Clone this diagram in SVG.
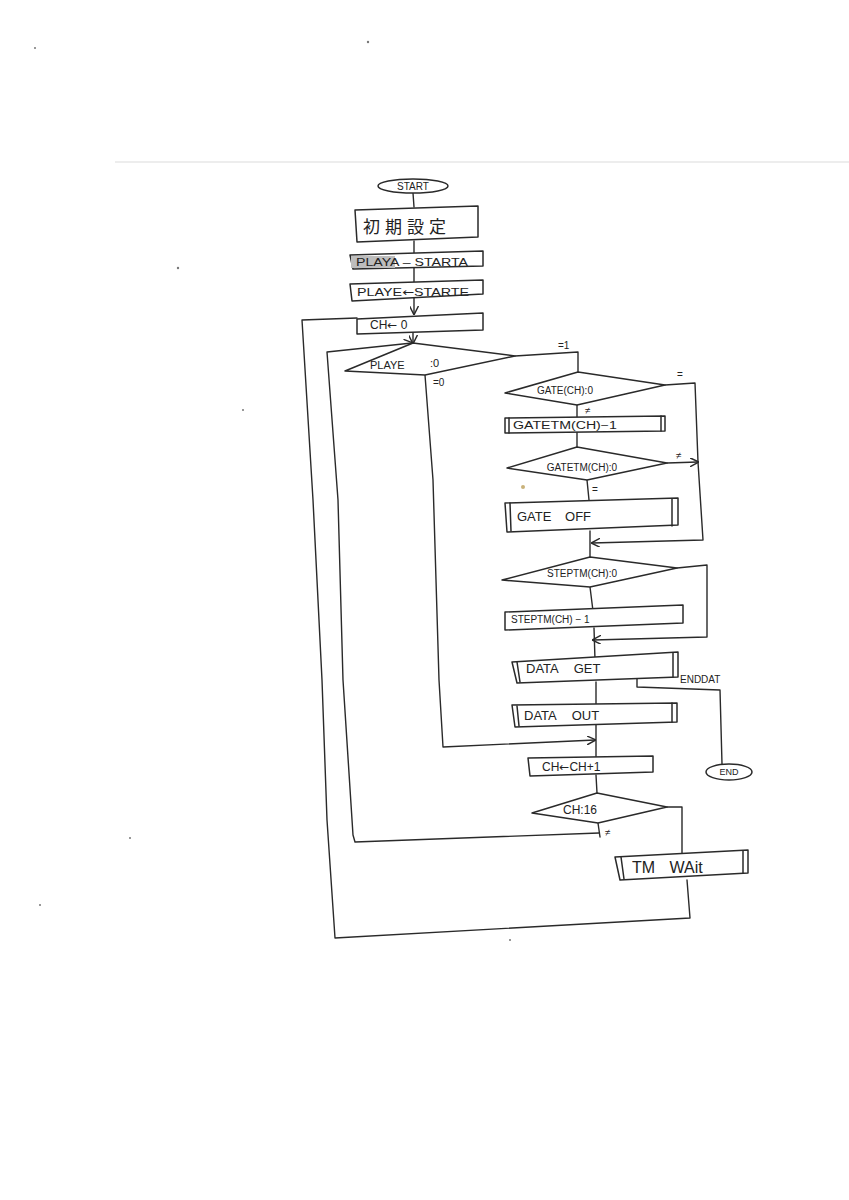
<svg xmlns="http://www.w3.org/2000/svg" width="849" height="1200" viewBox="0 0 849 1200">
<style>
.s{fill:none;stroke:#2a2a2a;stroke-width:1.5;stroke-linejoin:round;stroke-linecap:round}
.b{fill:#fff;stroke:#2a2a2a;stroke-width:1.5;stroke-linejoin:round}
.t{font-family:"Liberation Sans","DejaVu Sans",sans-serif;fill:#222}
.a{font-family:"DejaVu Sans",sans-serif}
.j{font-family:"Noto Sans CJK JP","Noto Sans CJK SC",sans-serif;fill:#222}
.c{fill:none;stroke:#2a2a2a;stroke-width:1.4;stroke-linejoin:round;stroke-linecap:round}
.dot{fill:#777}
</style>
<defs>
<marker id="ah" viewBox="0 0 10 10" refX="9" refY="5" markerWidth="9" markerHeight="9" markerUnits="userSpaceOnUse" orient="auto">
<path d="M0,0 L10,5 L0,10" fill="none" stroke="#2a2a2a" stroke-width="1.6"/>
</marker>
</defs>
<rect width="849" height="1200" fill="#fff"/>
<line x1="115" y1="162" x2="849" y2="162" stroke="#dcdcdc" stroke-width="1.2"/>
<g id="specks">
<circle class="dot" cx="35" cy="48" r="1"/>
<circle class="dot" cx="368" cy="42" r="1.2"/>
<circle class="dot" cx="178" cy="268" r="1.2"/>
<circle class="dot" cx="243" cy="410" r="1"/>
<circle class="dot" cx="40" cy="905" r="1"/>
<circle class="dot" cx="130" cy="838" r="1"/>
<circle class="dot" cx="510" cy="940" r="1"/>
<circle cx="523" cy="487" r="2" fill="#c9b27a"/>
</g>

<g id="connectors">
<path class="c" d="M413,193 L414,207"/>
<path class="c" d="M414,241 L414,253"/>
<path class="c" d="M414,267 L414,282"/>
<path class="c" d="M414,298 L414,314" marker-end="url(#ah)"/>
<path class="c" d="M413,333 L413,343" marker-end="url(#ah)"/>
<path class="c" d="M515,356 L578,352 L578,372"/>
<path class="c" d="M425,375 L433,480 L439,680 L443,747 L595,740" marker-end="url(#ah)"/>
<path class="c" d="M665,385 L695,383 L698,462 L703,540 L592,543" marker-end="url(#ah)"/>
<path class="c" d="M577,405 L577,418"/>
<path class="c" d="M577,432 L577,447"/>
<path class="c" d="M667,463 L698,462" marker-end="url(#ah)"/>
<path class="c" d="M587,480 L589,500"/>
<path class="c" d="M590,531 L590,557"/>
<path class="c" d="M677,568 L707,565 L707,637 L593,640" marker-end="url(#ah)"/>
<path class="c" d="M590,587 L593,611"/>
<path class="c" d="M594,628 L595,660"/>
<path class="c" d="M637,678 L637,687 L720,690 L722,764"/>
<path class="c" d="M596,682 L596,705"/>
<path class="c" d="M596,725 L596,757"/>
<path class="c" d="M596,775 L597,793"/>
<path class="c" d="M667,807 L682,807 L682,853"/>
<path class="c" d="M598,823 L600,837"/>
<path class="c" d="M599,833 L355,842 L353,835 L343,680 L338,500 L327,352 L412,343" marker-end="url(#ah)"/>
<path class="c" d="M687,880 L690,918 L335,938 L327,820 L322,680 L313,500 L302,320 L357,318"/>
<text class="t" x="558" y="349" font-size="10">=1</text>
<text class="t" x="433" y="386" font-size="10">=0</text>
<text class="t" x="677" y="378" font-size="10">=</text>
<text class="t" x="585" y="414" font-size="10">≠</text>
<text class="t" x="676" y="459" font-size="10">≠</text>
<text class="t" x="592" y="493" font-size="10">=</text>
<text class="t" x="680" y="683" font-size="10">ENDDAT</text>
<text class="t" x="605" y="836" font-size="10">≠</text>
</g>

<g id="start">
<ellipse class="b" cx="413" cy="186" rx="35" ry="7"/>
<text class="t" x="413" y="190" font-size="10" text-anchor="middle">START</text>
</g>
<g id="init">
<polygon class="b" points="355,210 478,206 478,237 357,242"/>
<text class="j" x="363" y="233" font-size="17" letter-spacing="5">初期設定</text>
</g>
<g id="playa">
<polygon class="b" points="350,255 483,251 483,266 353,269"/>
<rect x="351" y="256" width="44" height="12" fill="#bdbdbd"/>
<text class="t" x="356" y="266" font-size="11" textLength="112" lengthAdjust="spacingAndGlyphs">PLAYA – STARTA</text>
</g>
<g id="playe">
<polygon class="b" points="350,284 483,280 483,294 352,301"/>
<text class="t" x="357" y="296" font-size="11" textLength="112" lengthAdjust="spacingAndGlyphs">PLAYE<tspan class="a">←</tspan>STARTE</text>
</g>
<g id="ch0">
<polygon class="b" points="357,319 483,313 483,330 357,334"/>
<text class="t" x="370" y="329" font-size="12">CH<tspan class="a">←</tspan> 0</text>
</g>
<g id="playe-check">
<polygon class="b" points="345,371 413,343 515,356 425,375"/>
<text class="t" x="370" y="369" font-size="11">PLAYE</text>
<text class="t" x="430" y="367" font-size="11">:0</text>
</g>
<g id="gate-check">
<polygon class="b" points="505,393 578,372 665,385 577,405"/>
<text class="t" x="565" y="394" font-size="10" text-anchor="middle">GATE(CH):0</text>
</g>
<g id="gatetm-dec">
<polygon class="b" points="505,418 665,416 665,431 505,433"/>
<line class="s" x1="509" y1="418" x2="509" y2="433"/>
<line class="s" x1="661" y1="416" x2="661" y2="431"/>
<text class="t" x="513" y="429" font-size="10" textLength="104" lengthAdjust="spacingAndGlyphs">GATETM(CH)−1</text>
</g>
<g id="gatetm-check">
<polygon class="b" points="507,468 577,447 667,463 587,480"/>
<text class="t" x="582" y="471" font-size="10" text-anchor="middle">GATETM(CH):0</text>
</g>
<g id="gate-off">
<polygon class="b" points="505,503 678,498 678,525 507,532"/>
<line class="s" x1="510" y1="503" x2="511" y2="531"/>
<line class="s" x1="672" y1="499" x2="672" y2="526"/>
<text class="t" x="517" y="521" font-size="13" word-spacing="10">GATE OFF</text>
</g>
<g id="steptm-check">
<polygon class="b" points="502,580 590,557 677,568 590,587"/>
<text class="t" x="582" y="577" font-size="10" text-anchor="middle">STEPTM(CH):0</text>
</g>
<g id="steptm-dec">
<polygon class="b" points="505,612 683,605 683,623 505,630"/>
<text class="t" x="511" y="623" font-size="10">STEPTM(CH) − 1</text>
</g>
<g id="data-get">
<polygon class="b" points="512,662 678,652 678,677 517,683"/>
<line class="s" x1="517" y1="662" x2="520" y2="682"/>
<line class="s" x1="673" y1="653" x2="673" y2="677"/>
<text class="t" x="526" y="673" font-size="13" word-spacing="12">DATA GET</text>
</g>
<g id="end">
<ellipse class="b" cx="729" cy="772" rx="23" ry="8"/>
<text class="t" x="729" y="775" font-size="9" text-anchor="middle">END</text>
</g>
<g id="data-out">
<polygon class="b" points="512,705 677,703 677,722 515,727"/>
<line class="s" x1="517" y1="706" x2="519" y2="726"/>
<line class="s" x1="672" y1="703" x2="672" y2="722"/>
<text class="t" x="524" y="720" font-size="13" word-spacing="12">DATA OUT</text>
</g>
<g id="ch-inc">
<polygon class="b" points="528,758 653,756 653,772 530,776"/>
<text class="t" x="542" y="771" font-size="12">CH<tspan class="a">←</tspan>CH+1</text>
</g>
<g id="ch16">
<polygon class="b" points="532,813 597,793 667,807 598,823"/>
<text class="t" x="563" y="814" font-size="12">CH:16</text>
</g>
<g id="tm-wait">
<polygon class="b" points="615,857 748,850 748,873 620,880"/>
<line class="s" x1="621" y1="857" x2="624" y2="879"/>
<line class="s" x1="743" y1="851" x2="743" y2="873"/>
<text class="t" x="632" y="873" font-size="16" word-spacing="10">TM WAit</text>
</g>
</svg>
